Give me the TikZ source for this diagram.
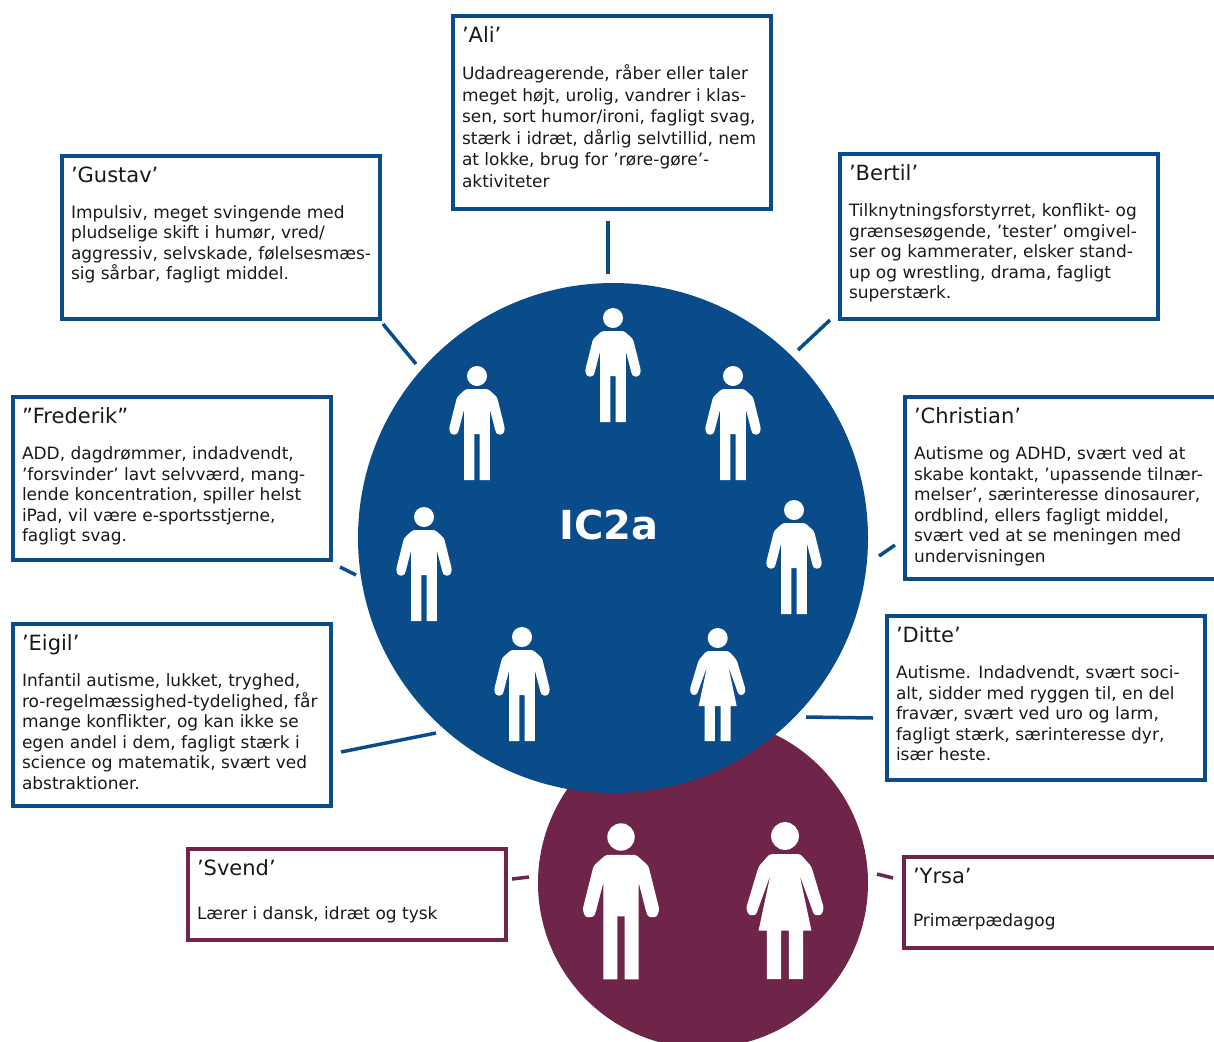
\documentclass[tikz,border=0pt]{standalone}
\usepackage{fontspec}
\setmainfont{DejaVu Sans}
\usepackage{tikz}
\definecolor{classblue}{HTML}{0A4C8A}
\definecolor{staffred}{HTML}{6F2549}
\tikzset{
	link/.style={line width=3.5pt},
	info nodes/.style={
		rectangle,
		draw=#1,
		line width=3.5pt,
		anchor=north west,
		align=left,
		inner xsep=9pt,
		inner ysep=0pt,
		outer sep=0pt,
		text=black!90
	},
	group circle/.style={
		circle,
		fill=#1,
		inner sep=0pt,
		outer sep=0pt
	}
}
\newcommand{\infobox}[7][15pt]{% gap, name, position, height, colour, title, text
	\node[info nodes=#5] (n#2) at (#3) {\parbox[c][#4pt][t]{300pt}{%
		\vspace{11pt}\fontsize{21}{24}\selectfont #6\par
		\vspace{#1}\fontsize{17}{20.6}\selectfont #7}};
}
\newcommand{\linkline}[4]{% name, start, end, colour
	\coordinate (l#1a) at (#2);
	\coordinate (l#1b) at (#3);
	\draw[link, #4] (l#1a) -- (l#1b);
}
\newcommand{\manicon}[2]{% head position, scale
	\begin{scope}[shift={(#1)}, scale=#2, white]
		\fill (0,0) circle [radius=10];
		\fill[rounded corners=2.5pt] (-11,13) -- (11,13) -- (20,21) -- (28,53) -- (26,58.5) -- (20,58.5) -- (18.5,55)
			-- (12.8,33) [sharp corners] -- (12.8,104) -- (2.7,104) -- (2.7,58) -- (-2.7,58) -- (-2.7,104) -- (-12.8,104) -- (-12.8,33) [rounded corners=2.5pt]
			-- (-18.5,55) -- (-20,58.5) -- (-26,58.5) -- (-28,53) -- (-20,21) -- cycle;
	\end{scope}
}
\newcommand{\womanicon}[2]{% head position, scale
	\begin{scope}[shift={(#1)}, scale=#2, white]
		\fill (0,0) circle [radius=10];
		\fill[rounded corners=2.5pt] (-11,13) -- (11,13) -- (19,22) -- (28,52) -- (26,57) -- (21,57)
			-- (10.5,28) [sharp corners] -- (19,68) -- (13,68) -- (13,103) -- (2.8,103) -- (2.8,68) -- (-2.8,68) -- (-2.8,103) -- (-13,103) -- (-13,68) -- (-19,68) -- (-10.5,28) [rounded corners=2.5pt]
			-- (-21,57) -- (-26,57) -- (-28,52) -- (-19,22) -- cycle;
	\end{scope}
}
\begin{document}
\begin{tikzpicture}[x=1pt, y=-1pt]
	\clip (0,0) rectangle (1214,1041);
	
	\node[group circle=staffred, minimum size=330pt] (staff) at (703,883) {};
	\node[group circle=classblue, minimum size=510pt] (class) at (613,538) {};
	\node[font=\fontsize{40}{44}\selectfont\bfseries, white] (classname) at (609,525) {IC2a};
	
	\manicon{613,318}{1};
	\manicon{733,376}{1};
	\manicon{794,510}{1};
	\womanicon{717.7,638}{1};
	\manicon{522,637}{1};
	\manicon{424,517}{1};
	\manicon{477,376}{1};
	\manicon{621,837}{1.37};
	\womanicon{785,836}{1.39};
	
	\infobox{ali}{453,16}{193}{classblue}{’Ali’}{\fontsize{17}{21.6}\selectfont Udadreagerende, råber eller taler\\meget højt, urolig, vandrer i klas-\\sen, sort humor/ironi, fagligt svag,\\stærk i idræt, dårlig selvtillid, nem\\at lokke, brug for ’røre-gøre’-\\aktiviteter}
	\infobox{gustav}{62,156}{163}{classblue}{’Gustav’}{Impulsiv, meget svingende med\\pludselige skift i humør, vred/\\aggressiv, selvskade, følelsesmæs-\\sig sårbar, fagligt middel.}
	\infobox{bertil}{840,154}{165}{classblue}{’Bertil’}{Tilknytningsforstyrret, konflikt- og\\grænsesøgende, ’tester’ omgivel-\\ser og kammerater, elsker stand-\\up og wrestling, drama, fagligt\\superstærk.}
	\infobox{frederik}{13,397}{163}{classblue}{”Frederik”}{ADD, dagdrømmer, indadvendt,\\’forsvinder’ lavt selvværd, mang-\\lende koncentration, spiller helst\\iPad, vil være e-sportsstjerne,\\fagligt svag.}
	\infobox{christian}{905,397}{182}{classblue}{’Christian’}{Autisme og ADHD, svært ved at\\skabe kontakt, ’upassende tilnær-\\melser’, særinteresse dinosaurer,\\ordblind, ellers fagligt middel,\\svært ved at se meningen med\\undervisningen}
	\infobox{eigil}{13,624}{182}{classblue}{’Eigil’}{Infantil autisme, lukket, tryghed,\\ro-regelmæssighed-tydelighed, får\\mange konflikter, og kan ikke se\\egen andel i dem, fagligt stærk i\\science og matematik, svært ved\\abstraktioner.}
	\infobox{ditte}{887,616}{164}{classblue}{’Ditte’}{Autisme. Indadvendt, svært soci-\\alt, sidder med ryggen til, en del\\fravær, svært ved uro og larm,\\fagligt stærk, særinteresse dyr,\\især heste.}
	\infobox[23pt]{svend}{188,849}{91}{staffred}{’Svend’}{Lærer i dansk, idræt og tysk}
	\infobox[23pt]{yrsa}{904,857}{91}{staffred}{’Yrsa’}{Primærpædagog}
	
	\linkline{ali}{608,221}{608,274}{classblue}
	\linkline{gustav}{383,324}{416,364}{classblue}
	\linkline{bertil}{830,320}{798,350}{classblue}
	\linkline{christian}{895,545}{879,556}{classblue}
	\linkline{frederik}{340,567}{356,575}{classblue}
	\linkline{eigil}{341,752}{436,733}{classblue}
	\linkline{ditte}{806,717}{873,718}{classblue}
	\linkline{svend}{512,879}{529,877}{staffred}
	\linkline{yrsa}{877,874}{893,878}{staffred}
\end{tikzpicture}
\end{document}
